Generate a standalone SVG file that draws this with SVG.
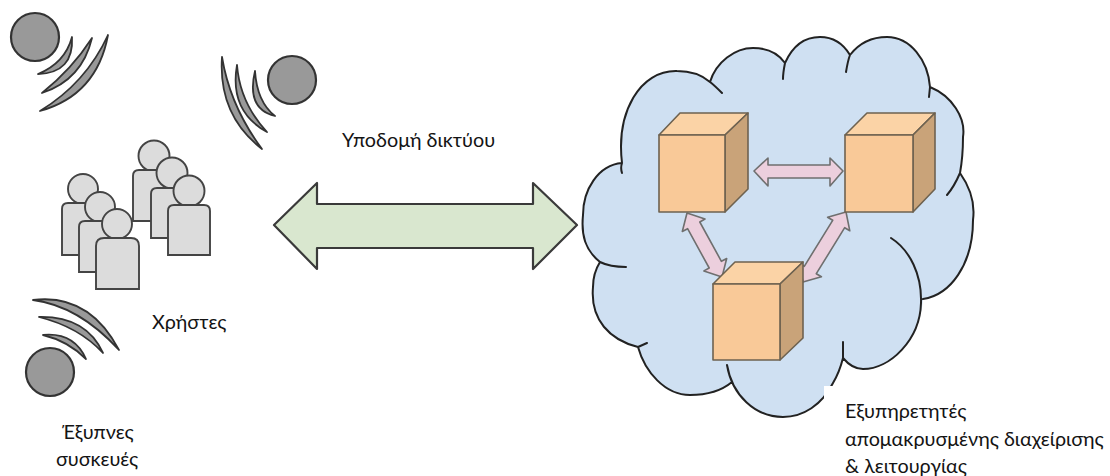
<svg xmlns="http://www.w3.org/2000/svg" width="1110" height="476" viewBox="0 0 1110 476">
<style>
text{font-family:"Lato","Open Sans","Noto Sans",sans-serif;font-size:19.8px;fill:#141414}
.dev{fill:#999;stroke:#333;stroke-width:2.2}
.wave{fill:#999;stroke:#333;stroke-width:1.8;stroke-linejoin:round}
.p{fill:#dcdcdc;stroke:#444;stroke-width:1.9}
.front{fill:#f9c998;stroke:#6e6250;stroke-width:1.6;stroke-linejoin:round}
.top{fill:#fbd3a6;stroke:#6e6250;stroke-width:1.6;stroke-linejoin:round}
.side{fill:#c9a379;stroke:#6e6250;stroke-width:1.6;stroke-linejoin:round}
.pink{fill:#eccfdd;stroke:#6f6f6f;stroke-width:1.6;stroke-linejoin:round}
.edge{fill:none;stroke:#222;stroke-width:2;stroke-linecap:round}
</style>
<rect width="1110" height="476" fill="#ffffff"/>
<g id="device-1">
<circle class="dev" cx="35" cy="37" r="24"/>
<path class="wave" d="M72 37Q74 73 38 74Q65 63 72 37Z"/>
<path class="wave" d="M92 38Q82 80 42 93Q72 69 92 38Z"/>
<path class="wave" d="M108 35Q97 95 40 111Q86 83 108 35Z"/>
</g>
<g id="device-2">
<circle class="dev" cx="292" cy="80" r="24"/>
<path class="wave" d="M255 71Q246 109 275 116Q257 102 255 71Z"/>
<path class="wave" d="M237 65Q229 111 267 132Q240 103 237 65Z"/>
<path class="wave" d="M222 57Q218 115 262 149Q230 106 222 57Z"/>
</g>
<g id="device-3">
<circle class="dev" cx="50" cy="372" r="24"/>
<path class="wave" d="M43 335Q74 332 86 359Q68 341 43 335Z"/>
<path class="wave" d="M39 317Q86 316 103 353Q79 327 39 317Z"/>
<path class="wave" d="M33 300Q89 293 119 350Q79 306 33 300Z"/>
</g>
<g id="users-back">
<circle class="p" cx="154" cy="156" r="15.5"/>
<path class="p" d="M133 221V176Q133 170 139 170H170Q176 170 176 176V221Z"/>
<circle class="p" cx="172" cy="173" r="15.5"/>
<path class="p" d="M151 238V194Q151 188 157 188H188Q194 188 194 194V238Z"/>
<circle class="p" cx="189" cy="191" r="15.5"/>
<path class="p" d="M168 255V211Q168 205 174 205H204Q210 205 210 211V255Z"/>
</g>
<g id="users-front">
<circle class="p" cx="83" cy="189" r="15"/>
<path class="p" d="M62 255V209Q62 203 68 203H99Q105 203 105 209V255Z"/>
<circle class="p" cx="100" cy="207" r="15"/>
<path class="p" d="M79 272V227Q79 221 85 221H116Q122 221 122 227V272Z"/>
<circle class="p" cx="117" cy="224" r="15"/>
<path class="p" d="M96 289V246Q96 238 104 238H131Q139 238 139 246V289Z"/>
</g>
<g id="connectors">
<path id="link-network" d="M274 225L317 183V204H533V183L577 225L533 269V248H317V269Z" fill="#d9e7cf" stroke="#3a3a3a" stroke-width="2.2" stroke-linejoin="round"/>
</g>
<g id="cloud">
<path d="M622 163C616 112 640 70 677 71C690 71 702 75 710 82C716 62 735 48 753 48C767 48 778 53 785 63C793 45 806 37 820 37C834 37 844 45 850 55C860 42 873 37 887 37C910 37 928 60 930 87C952 96 966 118 963 137C963 150 962 162 960 173C972 190 975 205 973 220C973 265 950 295 923 299C920 340 890 369 863 369C855 369 848 364 843 358C840 370 836 378 833 383C822 405 803 417 783 417C755 417 732 395 727 365C729 372 730 378 732 382C720 392 705 395 690 395C665 395 645 372 638 347C610 340 590 320 593 287C593 278 595 270 600 262C585 250 581 235 583 215C583 190 598 165 622 163Z" fill="#cfe0f2"/>
<path class="edge" d="M622 173C621 170 621 166 622 163C616 112 640 70 677 71C690 71 702 75 710 82M722 93C718 89 714 85 710 82C716 62 735 48 753 48C767 48 778 53 785 63M783 79C783 73 784 68 785 63C793 45 806 37 820 37C834 37 844 45 850 55M846 72C847 66 848 60 850 55C860 42 873 37 887 37C910 37 928 60 930 87C952 96 966 118 963 137C963 150 962 162 960 173C972 190 975 205 973 220C973 265 950 295 923 299M929 97L930 87M947 195C953 188 957 180 960 173M891 238C910 250 922 275 921 303C920 340 890 369 863 369C855 369 848 364 843 358C840 370 836 378 833 383C822 405 803 417 783 417C755 417 732 395 727 365M843 342L843 358M732 382C720 392 705 395 690 395C665 395 645 372 638 347C610 340 590 320 593 287C593 278 595 270 600 262C585 250 581 235 583 215C583 190 598 165 622 163M638 347L647 343M600 262C608 266 616 267 626 267"/>
</g>
<g id="links">
<polygon class="pink" points="754,171 768,158 768,165 830,165 830,158 843,171 830,186 830,178 768,178 768,186"/>
<polygon class="pink" points="687,213 705,219 699.8,222 721.4,261.3 726.7,258.5 722,277 703.9,270.9 709.2,268 687.6,228.7 682.3,231.5"/>
<polygon class="pink" points="846,212 849.8,230.8 844.7,227.7 816.3,273.7 821.4,276.8 803,282 799.2,263.2 804.3,266.3 832.7,220.3 827.6,217.2"/>
</g>
<g id="server-1">
<polygon class="top" points="659,135 680,113 748,113 725,135"/>
<polygon class="side" points="725,135 748,113 748,189 725,212"/>
<rect class="front" x="659" y="135" width="66" height="77"/>
</g>
<g id="server-2">
<polygon class="top" points="845,135 867,113 935,113 913,135"/>
<polygon class="side" points="913,135 935,113 935,189 913,212"/>
<rect class="front" x="845" y="135" width="68" height="77"/>
</g>
<g id="server-3">
<polygon class="top" points="713,284 735,262 803,262 780,284"/>
<polygon class="side" points="780,284 803,262 803,338 780,360"/>
<rect class="front" x="713" y="284" width="67" height="76"/>
</g>
<rect x="824" y="386" width="286" height="90" fill="#ffffff"/>
<g id="labels">
<text x="342" y="147">Υποδομή δικτύου</text>
<text x="152" y="329">Χρήστες</text>
<text x="62" y="439">Έξυπνες</text>
<text x="56" y="466">συσκευές</text>
<text x="845" y="418">Εξυπηρετητές</text>
<text x="845" y="446">απομακρυσμένης διαχείρισης</text>
<text x="845" y="473">&amp; λειτουργίας</text>
</g>
</svg>
